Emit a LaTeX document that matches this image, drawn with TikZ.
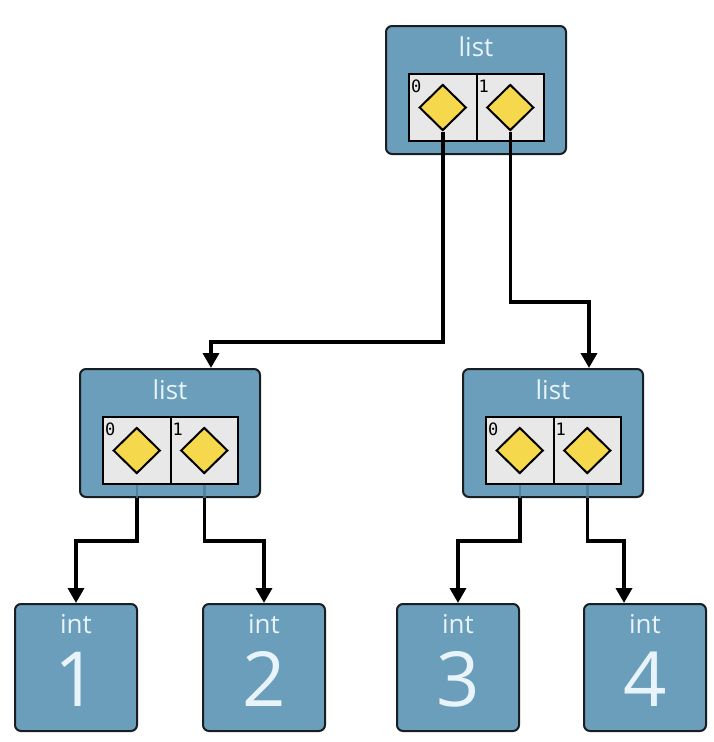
\documentclass[tikz,border=0pt]{standalone}
\usepackage{fontspec}
\setmainfont{Open Sans}
\newfontfamily\monof{DejaVu Sans Mono}
\usetikzlibrary{shapes.geometric,arrows.meta,calc}
\definecolor{boxblue}{RGB}{106,158,187}
\definecolor{boxtext}{RGB}{232,244,250}
\definecolor{cellgray}{RGB}{232,232,232}
\definecolor{diayellow}{RGB}{245,216,76}
\definecolor{edgedark}{RGB}{25,30,35}
\definecolor{faintblue}{RGB}{70,120,150}
\tikzset{
  objbox/.style={draw=edgedark,line width=2pt,rounded corners=6pt,fill=boxblue,inner sep=0pt,anchor=north west},
  cellbox/.style={draw=black,line width=2pt,fill=cellgray,inner sep=0pt,anchor=north west,minimum width=67.5pt,minimum height=67pt},
  ptr/.style={diamond,draw=black,line width=2pt,fill=diayellow,inner sep=0pt,minimum width=47pt,minimum height=46pt},
  title/.style={text=boxtext,font=\fontsize{26}{26}\selectfont,anchor=base,inner sep=0pt},
  bignum/.style={text=boxtext,font=\fontsize{76}{76}\selectfont,anchor=base,inner sep=0pt},
  idx/.style={font=\monof\fontsize{17}{17}\selectfont,anchor=north west,inner sep=0pt},
  conn/.style={line width=3.5pt,draw=black,-{Triangle[width=16pt,length=15pt]}},
  faint/.style={draw=faintblue,line width=2.5pt,opacity=0.7}
}
\begin{document}
\begin{tikzpicture}[x=1pt,y=-1pt]
\useasboundingbox (0,0) rectangle (714,742);
% list boxes
\foreach \n/\x/\y in {T/385/25,L/79/368,R/462/368}{
  \node[objbox,minimum width=180pt,minimum height=128pt] (\n) at (\x,\y) {};
  \node[title] (\n title) at ($(\n.north)+(0,31)$) {list};
  \node[cellbox] (\n c0) at ($(\n.north west)+(23,48)$) {};
  \node[cellbox] (\n c1) at ($(\n.north west)+(90.5,48)$) {};
  \node[idx] (\n i0) at ($(\n c0.north west)+(3,7)$) {0};
  \node[idx] (\n i1) at ($(\n c1.north west)+(3,7)$) {1};
  \node[ptr] (\n d0) at (\n c0.center) {};
  \node[ptr] (\n d1) at (\n c1.center) {};
}
% int boxes
\foreach \n/\x/\v in {A/14/1,B/202/2,C/396/3,D/583/4}{
  \node[objbox,minimum width=122pt,minimum height=127pt] (\n) at (\x,603) {};
  \node[title] (\n title) at ($(\n.north)+(0,30)$) {int};
  \node[bignum] (\n num) at ($(\n.north)+(0,103)$) {\v};
}
% connectors from the top list
\draw[conn] (Td0.south) -- (Td0.south |- 0,342) -| ([xshift=132pt]L.north west);
\draw[conn] (Td1.south) -- (Td1.south |- 0,302) -| ([xshift=127pt]R.north west);
% faint parts of the middle connectors inside the boxes
\foreach \n in {L,R}{
  \draw[faint] (\n c0.south -| \n d0.south) -- (\n.south -| \n d0.south);
  \draw[faint] (\n c1.south -| \n d1.south) -- (\n.south -| \n d1.south);
}
\draw[conn] (L.south -| Ld0.south) -- ++(0,43) -| (A.north);
\draw[conn] (L.south -| Ld1.south) -- ++(0,43) -| (B.north);
\draw[conn] (R.south -| Rd0.south) -- ++(0,43) -| (C.north);
\draw[conn] (R.south -| Rd1.south) -- ++(0,43) -| ([xshift=41pt]D.north west);
\end{tikzpicture}
\end{document}
